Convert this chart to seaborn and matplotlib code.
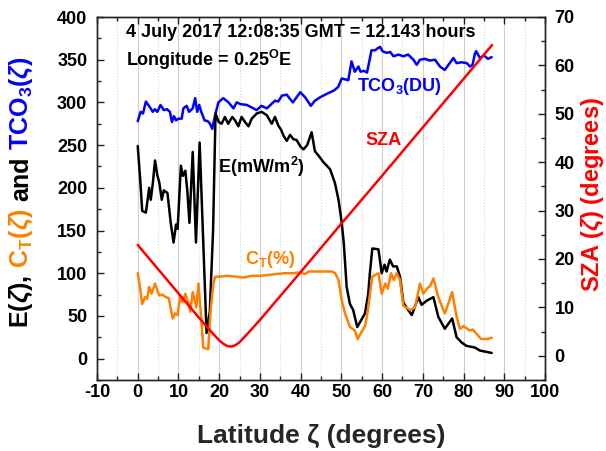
import matplotlib
matplotlib.use("Agg")
import matplotlib.pyplot as plt
import seaborn as sns
import numpy as np
from matplotlib.ticker import MultipleLocator

# ---------------- data ----------------
e_lat = [0.0, 0.6, 1.1, 2.0, 2.4, 2.8, 3.2, 3.7, 4.25, 4.8, 5.3, 5.9, 6.4, 6.7, 7.3, 8.1, 8.8, 9.4,
         9.8, 10.6, 11.1, 11.7, 12.2, 12.7, 13.5, 14.3, 15.2, 16.9, 17.7, 18.5, 19.1, 19.9, 20.6,
         21.4, 22.2, 23.2, 23.9, 24.7, 25.5, 26.5, 27.2, 28.0, 29.2, 30.4, 31.7, 32.9, 33.7, 34.5,
         35.2, 35.8, 36.6, 37.4, 38.2, 39.0, 40.0, 40.7, 41.6, 42.7, 43.5, 44.5, 45.6, 47.2, 48.4,
         49.3, 50.1, 50.6, 51.3, 52.1, 52.9, 53.9, 54.5, 55.8, 56.6, 57.0, 57.6, 59.1, 59.9, 60.6,
         61.1, 61.9, 62.7, 63.6, 64.4, 65.2, 66.1, 67.3, 68.9, 69.7, 71.0, 72.6, 73.8, 75.4, 77.2,
         78.3, 79.5, 80.7, 82.8, 84.0, 86.9]
e_val = [249, 210, 173, 171, 185, 200, 186, 205, 232, 215, 206, 186, 197, 196, 194, 159, 136, 157,
         152, 226, 214, 220, 195, 159, 242, 136, 253, 30, 55, 150, 287, 277, 275,
         283, 275, 283, 279, 272, 283, 276, 272, 281, 287, 289, 285, 275, 283, 273,
         268, 261, 255, 262, 257, 256, 248, 245, 250, 265, 243, 237, 230, 222, 206,
         186, 159, 135, 84, 64, 57, 37, 42, 53, 76, 100, 129, 128, 100, 110,
         102, 116, 108, 108, 96, 66, 59, 51, 72, 63, 68, 72, 49, 35, 47,
         25, 19, 15, 13, 9.5, 6.7]

ct_lat = [0.0, 0.6, 1.1, 1.8, 2.3, 2.8, 3.4, 4.25, 4.8, 5.3, 6.0, 6.9, 7.6, 8.6, 9.2, 9.8, 10.4,
          11.0, 11.7, 12.5, 12.9, 13.5, 14.4, 14.9, 15.5, 16.1, 17.3, 17.9, 18.5, 19.0, 20.0,
          22.0, 24.0, 26.0, 28.0, 30.0, 32.0, 34.0, 36.0, 38.0, 40.0, 41.0, 42.0, 44.0, 46.0,
          47.7, 48.5, 49.3, 50.1, 50.9, 52.1, 53.3, 54.0, 54.8, 55.8, 56.4, 57.0, 57.6, 59.1,
          59.9, 60.8, 61.4, 62.2, 62.9, 63.6, 64.4, 65.2, 66.9, 68.1, 69.3, 70.1, 71.0, 71.8,
          72.6, 73.8, 75.4, 76.3, 77.2, 78.3, 79.1, 80.0, 81.5, 82.3, 83.0, 84.3, 86.0, 86.9]
ct_val = [100, 82, 64, 72, 70, 84, 76, 88, 80, 74, 75, 72, 71, 47, 53, 51, 72,
          66, 76, 64, 55, 78, 60, 88, 53, 13, 11, 57, 85, 96, 96,
          97, 96, 95, 97, 97, 98, 99, 100, 100, 101, 99, 102, 102, 102,
          102, 100, 92, 68, 53, 37, 33, 23, 30, 38, 53, 75, 96, 100,
          76, 88, 82, 100, 92, 100, 92, 62, 57, 60, 88, 76, 82, 85,
          94, 72, 53, 65, 78, 49, 35, 38, 33, 34, 30, 23, 23, 24.5]

tco_lat = [0.0, 0.7, 1.3, 2.0, 2.9, 3.7, 4.2, 4.8, 5.6, 6.4, 7.2, 7.9, 8.4, 8.9, 9.4, 10.0, 10.8,
           11.2, 12.0, 12.6, 13.5, 14.1, 14.6, 15.1, 15.6, 16.4, 17.2, 17.75, 18.3, 18.9, 19.8,
           21.0, 22.3, 23.5, 24.3, 25.3, 26.8, 28.0, 29.2, 30.4, 31.7, 32.8, 33.7, 34.5, 35.4,
           36.6, 37.4, 38.1, 39.0, 39.9, 41.1, 42.5, 43.5, 44.8, 46.4, 48.2, 49.2, 50.1, 51.7,
           52.5, 53.3, 54.2, 54.7, 55.5, 56.3, 57.4, 58.3, 58.8, 59.5, 60.1, 61.1, 62.0, 62.8,
           64.0, 65.2, 66.4, 67.7, 68.5, 69.3, 70.5, 71.7, 73.0, 74.2, 75.4, 76.3, 77.5, 78.3,
           79.5, 80.8, 81.6, 82.2, 82.8, 83.1, 84.0, 85.0, 86.0, 86.9]
tco_val = [278, 289, 287, 301, 295, 289, 292, 289, 297, 291, 292, 289, 277, 284, 279, 281, 281,
           293, 296, 289, 293, 305, 289, 297, 289, 279, 278, 275, 269, 283, 300,
           305, 300, 293, 300, 298, 297, 294, 291, 296, 293, 298, 302, 301, 308,
           309, 304, 300, 306, 312, 306, 296, 302, 306, 310, 314, 318, 328, 326,
           348, 336, 342, 336, 337, 335, 361, 361, 363, 365, 360, 358, 359, 354,
           356, 354, 356, 350, 344, 350, 351, 349, 350, 342, 338, 344, 352, 346,
           347, 346, 342, 344, 357, 360, 352, 355, 351, 353]

sza_lat = [0, 5, 10, 15, 18, 20, 21, 22, 23, 24, 25, 27, 30, 40, 50, 60, 70, 80, 87]
sza_val = [22.9, 17.9, 12.9, 7.9, 5.0, 3.2, 2.5, 2.0, 1.9, 2.2, 2.8, 4.6, 7.4, 17.3, 27.3, 37.2,
           47.2, 57.2, 64.2]

x_ticks = [-10, 0, 10, 20, 30, 40, 50, 60, 70, 80, 90, 100]

BLUE = "#0000FF"
ORANGE = "#FF8000"
RED = "#FF0000"
BLACK = "#000000"

# ---------------- style ----------------
sns.set_theme(style="white")
plt.rcParams["font.family"] = ["Liberation Sans", "DejaVu Sans"]
plt.rcParams["font.weight"] = "bold"
plt.rcParams["axes.unicode_minus"] = False
plt.rcParams["mathtext.fontset"] = "custom"
plt.rcParams["mathtext.rm"] = "Liberation Sans:bold"
plt.rcParams["mathtext.bf"] = "Liberation Sans:bold"
plt.rcParams["mathtext.it"] = "Liberation Sans:italic"

W, H = 606, 451
fig = plt.figure(figsize=(W / 100, H / 100), dpi=100)
ax = fig.add_axes([97 / W, 1 - 380 / H, (545 - 97) / W, (380 - 17) / H])
ax2 = ax.twinx()

lw = 1.8
sns.lineplot(x=tco_lat, y=tco_val, ax=ax, color=BLUE, linewidth=lw)
sns.lineplot(x=e_lat, y=e_val, ax=ax, color=BLACK, linewidth=lw)
sns.lineplot(x=ct_lat, y=ct_val, ax=ax, color=ORANGE, linewidth=lw)
sns.lineplot(x=sza_lat, y=sza_val, ax=ax2, color=RED, linewidth=lw)

ax.set_xlim(-10, 100)
ax.set_ylim(-25, 400)
ax2.set_ylim(-5, 70)

ax.set_xticks(x_ticks)
ax.xaxis.set_minor_locator(MultipleLocator(5))
ax.yaxis.set_major_locator(MultipleLocator(50))
ax.yaxis.set_minor_locator(MultipleLocator(25))
ax2.yaxis.set_major_locator(MultipleLocator(10))
ax2.yaxis.set_minor_locator(MultipleLocator(5))

ax.grid(True, axis="x", which="major", color="#cfcfcf", linewidth=0.8, linestyle="-")
ax.grid(True, axis="x", which="minor", color="#d8d8d8", linewidth=0.8, linestyle=":")
ax.grid(False, axis="y")
ax2.grid(False)

for a in (ax, ax2):
    for s in a.spines.values():
        s.set_color("#222222")
        s.set_linewidth(1.0)

ax.tick_params(axis="x", which="both", direction="in", top=True, bottom=True, pad=3,
               labelsize=13, colors="#222222", labelcolor="black")
ax.tick_params(axis="y", which="both", direction="in", left=True, right=False, pad=7,
               labelsize=13, colors="#222222", labelcolor="black")
ax2.tick_params(axis="y", which="both", direction="in", right=True, left=False, pad=7,
                labelsize=13, colors="#222222", labelcolor="black")
for a in (ax, ax2):
    a.tick_params(which="major", length=5, width=1)
    a.tick_params(which="minor", length=3, width=1)
for lab in ax.get_xticklabels() + ax.get_yticklabels() + ax2.get_yticklabels():
    lab.set_fontweight("bold")

ax.set_xlabel(r"Latitude ζ (degrees)", fontsize=19, fontweight="bold")
ax.xaxis.set_label_coords(0.5, (380 - 424) / 363)
ax.set_ylabel("")
ax2.set_ylabel(r"SZA ($\zeta$) (degrees)", fontsize=17, fontweight="bold", color=RED,
               rotation=90, va="center", ha="center")
ax2.yaxis.set_label_coords((593 - 97) / 448, (380 - 195) / 363)

# annotations
def axpos(px, py):
    return ((px - 97) / 448, (380 - py) / 363)

ax.text(*axpos(126, 33), "4 July 2017 12:08:35 GMT = 12.143 hours", transform=ax.transAxes,
        fontsize=13, fontweight="bold", ha="left", va="center", color="black")
ax.text(*axpos(126, 60), r"Longitude = 0.25$^{\mathbf{O}}$E", transform=ax.transAxes,
        fontsize=13, fontweight="bold", ha="left", va="center", color="black")
ax.text(*axpos(357, 87), r"TCO$_{\mathbf{3}}$(DU)", transform=ax.transAxes,
        fontsize=13, fontweight="bold", ha="left", va="center", color=BLUE)
ax.text(*axpos(365, 141), "SZA", transform=ax.transAxes,
        fontsize=13, fontweight="bold", ha="left", va="center", color=RED)
ax.text(*axpos(218, 167), r"E(mW/m$^{\mathbf{2}}$)", transform=ax.transAxes,
        fontsize=13, fontweight="bold", ha="left", va="center", color=BLACK)
ax.text(*axpos(245, 260), r"C$_{\mathbf{T}}$(%)", transform=ax.transAxes,
        fontsize=13, fontweight="bold", ha="left", va="center", color=ORANGE)

# multi-coloured left y label
pieces = [(r"E($\zeta$),", BLACK), (r"C$_{\mathbf{T}}$($\zeta$)", ORANGE),
          ("and", BLACK), (r"TCO$_{\mathbf{3}}$($\zeta$)", BLUE)]
fig.canvas.draw()
renderer = fig.canvas.get_renderer()
texts = []
for s, c in pieces:
    t = fig.text(0, 0, s, color=c, rotation=90, fontsize=18, fontweight="bold",
                 ha="center", va="bottom")
    texts.append(t)
hs = [t.get_window_extent(renderer).height for t in texts]
gap = 7
total = sum(hs) + gap * (len(hs) - 1)
y = (H - 192) - total / 2
for t, h in zip(texts, hs):
    t.set_position((21 / W, y / H))
    y += h + gap

fig.savefig("out.png", dpi=100)
